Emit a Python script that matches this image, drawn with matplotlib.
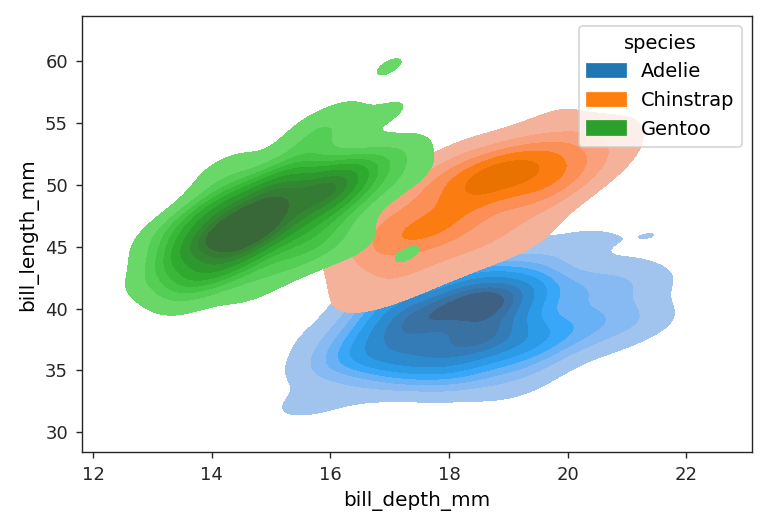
import matplotlib
matplotlib.use("Agg")
import matplotlib.pyplot as plt
import pandas as pd
import seaborn as sns

# (bill_length_mm, bill_depth_mm) pairs, per species
adelie = [
    (39.1, 18.7), (39.5, 17.4), (40.3, 18.0), (36.7, 19.3), (39.3, 20.6), (38.9, 17.8),
    (39.2, 19.6), (34.1, 18.1), (42.0, 20.2), (37.8, 17.1), (37.8, 17.3), (41.1, 17.6),
    (38.6, 21.2), (34.6, 21.1), (36.6, 17.8), (38.7, 19.0), (42.5, 20.7), (34.4, 18.4),
    (46.0, 21.5), (37.8, 18.3), (37.7, 18.7), (35.9, 19.2), (38.2, 18.1), (38.8, 17.2),
    (35.3, 18.9), (40.6, 18.6), (40.5, 17.9), (37.9, 18.6), (40.5, 18.9), (39.5, 16.7),
    (37.2, 18.1), (39.5, 17.8), (40.9, 18.9), (36.4, 17.0), (39.2, 21.1), (38.8, 20.0),
    (42.2, 18.5), (37.6, 19.3), (39.8, 19.1), (36.5, 18.0), (40.8, 18.4), (36.0, 18.5),
    (44.1, 19.7), (37.0, 16.9), (39.6, 18.8), (41.1, 19.0), (37.5, 18.9), (36.0, 17.9),
    (42.3, 21.2), (39.6, 17.7), (40.1, 18.9), (35.0, 17.9), (42.0, 19.5), (34.5, 18.1),
    (41.4, 18.6), (39.0, 17.5), (40.6, 18.8), (36.5, 16.6), (37.6, 19.1), (35.7, 16.9),
    (41.3, 21.1), (37.6, 17.0), (41.1, 18.2), (36.4, 17.1), (41.6, 18.0), (35.5, 16.2),
    (41.1, 19.1), (35.9, 16.6), (41.8, 19.4), (33.5, 19.0), (39.7, 18.4), (39.6, 17.2),
    (45.8, 18.9), (35.5, 17.5), (42.8, 18.5), (40.9, 16.8), (37.2, 19.4), (36.2, 16.1),
    (42.1, 19.1), (34.6, 17.2), (42.9, 17.6), (36.7, 18.8), (35.1, 19.4), (37.3, 17.8),
    (41.3, 20.3), (36.3, 19.5), (36.9, 18.6), (38.3, 19.2), (38.9, 18.8), (35.7, 18.0),
    (41.1, 18.1), (34.0, 17.1), (39.6, 18.1), (36.2, 17.3), (40.8, 18.9), (38.1, 18.6),
    (40.3, 18.5), (33.1, 16.1), (43.2, 18.5), (35.0, 17.9), (41.0, 20.0), (37.7, 16.0),
    (37.8, 20.0), (37.9, 18.6), (39.7, 18.9), (38.6, 17.2), (38.2, 20.0), (38.1, 17.0),
    (43.2, 19.0), (38.1, 16.5), (45.6, 20.3), (39.7, 17.7), (42.2, 19.5), (39.6, 20.7),
    (42.7, 18.3), (38.6, 17.0), (37.3, 20.5), (35.7, 17.0), (41.1, 18.6), (36.2, 17.2),
    (37.7, 19.8), (40.2, 17.0), (41.4, 18.5), (35.2, 15.9), (40.6, 19.0), (38.8, 17.6),
    (41.5, 18.3), (39.0, 17.1), (44.1, 18.0), (38.5, 17.9), (43.1, 19.2), (36.8, 18.5),
    (37.5, 18.5), (38.1, 17.6), (41.1, 17.5), (35.6, 17.5), (40.2, 20.1), (37.0, 16.5),
    (39.7, 17.9), (40.2, 17.1), (40.6, 17.2), (32.1, 15.5), (40.7, 17.0), (37.3, 16.8),
    (39.0, 18.7), (39.2, 18.6), (36.6, 18.4), (36.0, 17.8), (37.8, 18.1), (36.0, 17.1),
    (41.5, 18.5),
]

chinstrap = [
    (46.5, 17.9), (50.0, 19.5), (51.3, 19.2), (45.4, 18.7), (52.7, 19.8), (45.2, 17.8),
    (46.1, 18.2), (51.3, 18.2), (46.0, 18.9), (51.3, 19.9), (46.6, 17.8), (51.7, 20.3),
    (47.0, 17.3), (52.0, 18.1), (45.9, 17.1), (50.5, 19.6), (50.3, 20.0), (58.0, 17.8),
    (46.4, 18.6), (49.2, 18.2), (42.4, 17.3), (48.5, 17.5), (43.2, 16.6), (50.6, 19.4),
    (46.7, 17.9), (52.0, 19.0), (50.5, 18.4), (49.5, 19.0), (46.4, 17.8), (52.8, 20.0),
    (40.9, 16.6), (54.2, 20.8), (42.5, 16.7), (51.0, 18.8), (49.7, 18.6), (47.5, 16.8),
    (47.6, 18.3), (52.0, 20.7), (46.9, 16.6), (53.5, 19.9), (49.0, 19.5), (46.2, 17.5),
    (50.9, 19.1), (45.5, 17.0), (50.9, 17.9), (50.8, 18.5), (50.1, 17.9), (49.0, 19.6),
    (51.5, 18.7), (49.8, 17.3), (48.1, 16.4), (51.4, 19.0), (45.7, 17.3), (50.7, 19.7),
    (42.5, 17.3), (52.2, 18.8), (45.2, 16.6), (49.3, 19.9), (50.2, 18.8), (45.6, 19.4),
    (51.9, 19.5), (46.8, 16.5), (45.7, 17.0), (55.8, 19.8), (43.5, 18.1), (49.6, 18.2),
    (50.8, 19.0), (50.2, 18.7),
]

gentoo = [
    (46.1, 13.2), (50.0, 16.3), (48.7, 14.1), (50.0, 15.2), (47.6, 14.5), (46.5, 13.5),
    (45.4, 14.6), (46.7, 15.3), (43.3, 13.4), (46.8, 15.4), (40.9, 13.7), (49.0, 16.1),
    (45.5, 13.7), (48.4, 14.6), (45.8, 14.6), (49.3, 15.7), (42.0, 13.5), (49.2, 15.2),
    (46.2, 14.5), (48.7, 15.1), (50.2, 14.3), (45.1, 14.5), (46.5, 14.5), (46.3, 15.8),
    (42.9, 13.1), (46.1, 15.1), (44.5, 14.3), (47.8, 15.0), (48.2, 14.3), (50.0, 15.3),
    (47.3, 15.3), (42.8, 14.2), (45.1, 14.5), (59.6, 17.0), (49.1, 14.8), (48.4, 16.3),
    (42.6, 13.7), (44.4, 17.3), (44.0, 13.6), (48.7, 15.7), (42.7, 13.7), (49.6, 16.0),
    (45.3, 13.7), (49.6, 15.0), (50.5, 15.9), (43.6, 13.9), (45.5, 13.9), (50.5, 15.9),
    (44.9, 13.3), (45.2, 15.8), (46.6, 14.2), (48.5, 14.1), (45.1, 14.4), (50.1, 15.0),
    (46.5, 14.4), (45.0, 15.4), (43.8, 13.9), (45.5, 15.0), (43.2, 14.5), (50.4, 15.3),
    (45.3, 13.8), (46.2, 14.9), (45.7, 13.9), (54.3, 15.7), (45.8, 14.2), (49.8, 16.8),
    (46.2, 14.4), (49.5, 16.2), (43.5, 14.2), (50.7, 15.0), (47.7, 15.0), (46.4, 15.6),
    (48.2, 15.6), (46.5, 14.8), (46.4, 15.0), (48.6, 16.0), (47.5, 14.2), (51.1, 16.3),
    (45.2, 13.8), (45.2, 16.4), (49.1, 14.5), (52.5, 15.6), (47.4, 14.6), (50.0, 15.9),
    (44.9, 13.8), (50.8, 17.3), (43.4, 14.4), (51.3, 14.2), (47.5, 14.0), (52.1, 17.0),
    (47.5, 15.0), (52.2, 17.1), (45.5, 14.5), (49.5, 16.1), (44.5, 14.7), (50.8, 15.7),
    (49.4, 15.8), (46.9, 14.6), (48.4, 14.4), (51.1, 16.5), (48.5, 15.0), (55.9, 17.0),
    (47.2, 15.5), (49.1, 15.0), (47.3, 13.8), (46.8, 16.1), (41.7, 14.7), (53.4, 15.8),
    (43.3, 14.0), (48.1, 15.1), (50.5, 15.2), (49.8, 15.9), (43.5, 15.2), (51.5, 16.3),
    (46.2, 14.1), (55.1, 16.0), (44.5, 15.7), (48.8, 16.2), (47.2, 13.7), (46.8, 14.3),
    (50.4, 15.7), (45.2, 14.8), (49.9, 16.1),
]

rows = []
for name, pts in [("Adelie", adelie), ("Chinstrap", chinstrap), ("Gentoo", gentoo)]:
    for length, depth in pts:
        rows.append({"species": name, "bill_length_mm": length, "bill_depth_mm": depth})
penguins = pd.DataFrame(rows)

plt.rcParams["xtick.labelsize"] = 10.4
plt.rcParams["ytick.labelsize"] = 10.4
plt.rcParams["axes.labelsize"] = 11.5
plt.rcParams["legend.fontsize"] = 11.2
plt.rcParams["legend.title_fontsize"] = 11.2
plt.rcParams["axes.edgecolor"] = "#262626"
plt.rcParams["xtick.color"] = "#262626"
plt.rcParams["ytick.color"] = "#262626"

fig = plt.figure(figsize=(6.12, 4.192), dpi=125)
ax = fig.add_axes([0.107, 0.137, 0.876, 0.832])

sns.kdeplot(data=penguins, x="bill_depth_mm", y="bill_length_mm",
            hue="species", fill=True, ax=ax)

ax.set_xlim(11.81, 23.11)
ax.set_ylim(28.38, 63.64)
ax.set_xticks([12, 14, 16, 18, 20, 22])
ax.set_yticks([30, 35, 40, 45, 50, 55, 60])
ax.tick_params(pad=4.5)

fig.savefig("out.png", dpi=125)
